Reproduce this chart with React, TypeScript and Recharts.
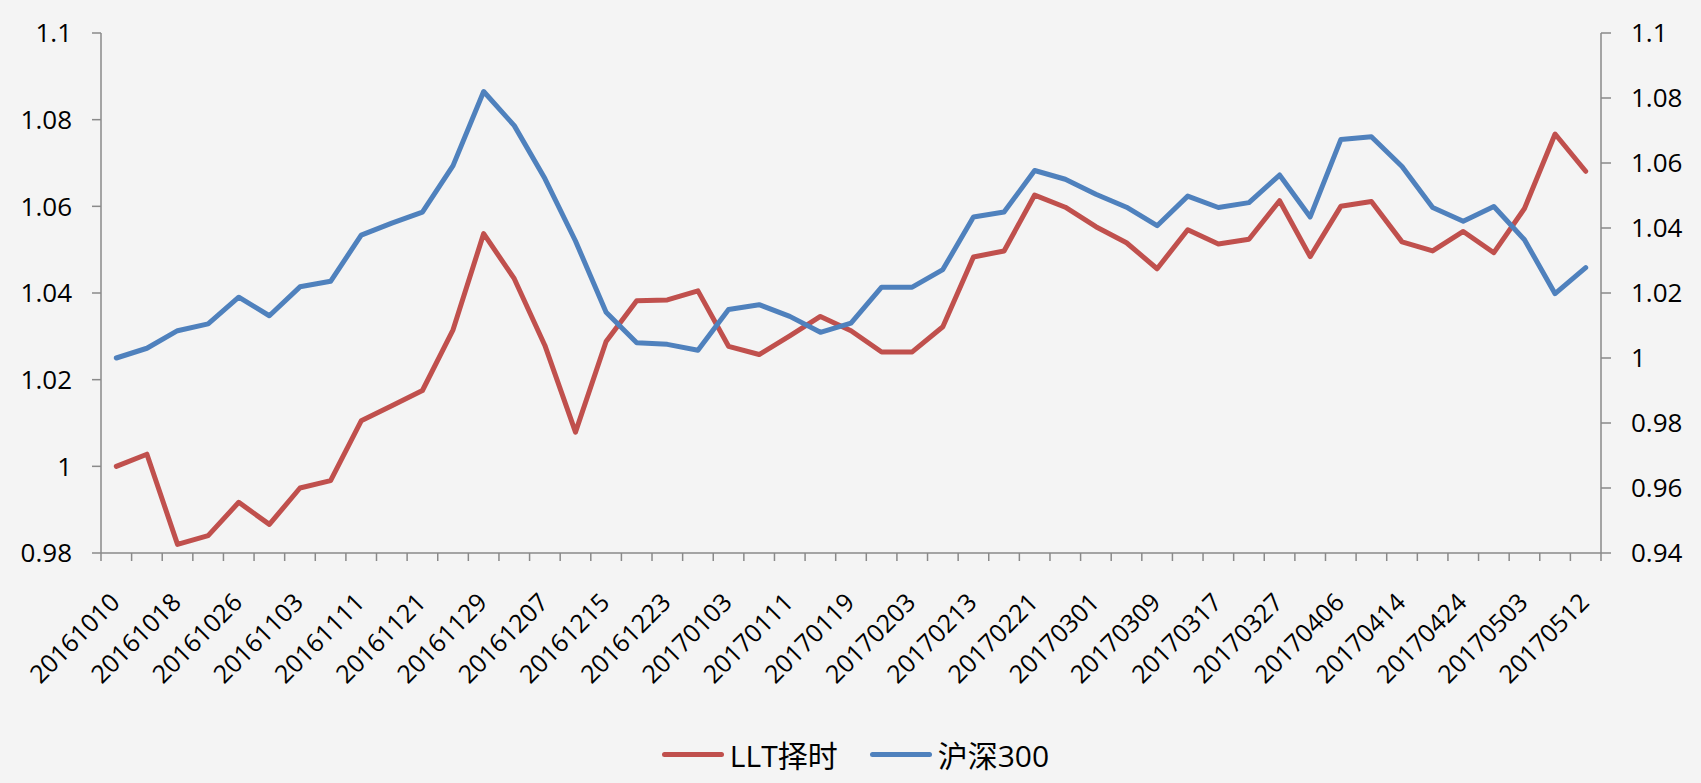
import { LineChart, Line, XAxis, YAxis, Legend } from 'recharts';

const DATES = [
  '20161010', '20161013', '20161018', '20161021', '20161026', '20161031', '20161103', '20161108',
  '20161111', '20161116', '20161121', '20161124', '20161129', '20161202', '20161207', '20161212',
  '20161215', '20161220', '20161223', '20161228', '20170103', '20170106', '20170111', '20170116',
  '20170119', '20170124', '20170203', '20170208', '20170213', '20170216', '20170221', '20170224',
  '20170301', '20170306', '20170309', '20170314', '20170317', '20170322', '20170327', '20170330',
  '20170406', '20170411', '20170414', '20170419', '20170424', '20170427', '20170503', '20170508',
  '20170512',
];

const LLT = [
  1.0, 1.0028, 0.982, 0.984, 0.9917, 0.9866, 0.995, 0.9967, 1.0105, 1.014,
  1.0175, 1.0315, 1.0537, 1.0433, 1.0279, 1.0079, 1.0288, 1.0382, 1.0384, 1.0405,
  1.0277, 1.0258, 1.0301, 1.0346, 1.0313, 1.0264, 1.0264, 1.0322, 1.0483, 1.0497,
  1.0626, 1.0598, 1.0553, 1.0516, 1.0456, 1.0546, 1.0513, 1.0524, 1.0613, 1.0484,
  1.06, 1.0611, 1.0518, 1.0497, 1.0542, 1.0493, 1.0595, 1.0767, 1.0681,
];

const HS300 = [
  1.0, 1.003, 1.0084, 1.0105, 1.0187, 1.013, 1.0219, 1.0236, 1.0378, 1.0415,
  1.0449, 1.0592, 1.082, 1.0715, 1.0552, 1.036, 1.0141, 1.0047, 1.0042, 1.0024,
  1.0149, 1.0164, 1.0128, 1.0079, 1.0107, 1.0218, 1.0218, 1.0272, 1.0434, 1.0449,
  1.0577, 1.055, 1.0504, 1.0464, 1.0407, 1.0498, 1.0463, 1.0478, 1.0563, 1.0434,
  1.0672, 1.0681, 1.0589, 1.0463, 1.0421, 1.0466, 1.0364, 1.0198, 1.0278,
];

const LEFT_TICKS = [0.98, 1.0, 1.02, 1.04, 1.06, 1.08, 1.1];
const RIGHT_TICKS = [0.94, 0.96, 0.98, 1.0, 1.02, 1.04, 1.06, 1.08, 1.1];

const data = DATES.map((date, i) => ({ date, llt: LLT[i], hs300: HS300[i] }));

const W = 1701;
const H = 783;
const LEFT_W = 101;
const RIGHT_W = 100;
const N = DATES.length;
const HALF = (W - LEFT_W - RIGHT_W) / N / 2;

const AXIS = '#8a8a8a';
const RED = '#c0504d';
const BLUE = '#4f81bd';
const FONT = '"Open Sans", "Noto Sans CJK SC", sans-serif';

const fmt = (v: number) => String(+v.toFixed(2));

function DateTick(props: any) {
  const { x, y, index, payload } = props;
  const tx = x + 5;
  const ty = y + 51;
  return (
    <g>
      <line x1={x - HALF} x2={x - HALF} y1={y} y2={y + 8} stroke={AXIS} strokeWidth={1.5} />
      {index === N - 1 && (
        <line x1={x + HALF} x2={x + HALF} y1={y} y2={y + 8} stroke={AXIS} strokeWidth={1.5} />
      )}
      {index % 2 === 0 && (
        <text
          x={tx}
          y={ty}
          textAnchor="end"
          transform={`rotate(-45 ${tx} ${ty})`}
          fontSize={25}
          fill="#000"
          fontFamily={FONT}
        >
          {payload.value}
        </text>
      )}
    </g>
  );
}

function LegendContent(props: any) {
  const { payload } = props;
  return (
    <div
      style={{
        height: 40,
        display: 'flex',
        justifyContent: 'center',
        alignItems: 'center',
        paddingLeft: 10,
        fontFamily: FONT,
        fontSize: 30,
        color: '#000',
      }}
    >
      {(payload || []).map((p: any, i: number) => (
        <div key={p.value} style={{ display: 'flex', alignItems: 'center', marginLeft: i ? 32 : 0 }}>
          <span
            style={{
              display: 'inline-block',
              width: 62,
              height: 5,
              borderRadius: 3,
              background: p.color,
              marginRight: 6,
            }}
          />
          <span>{p.value}</span>
        </div>
      ))}
    </div>
  );
}

export default function App() {
  return (
    <div style={{ position: 'absolute', left: 0, top: 0, width: W, height: H, background: '#f4f4f4' }}>
      <LineChart width={W} height={H} data={data} margin={{ top: 33, right: 0, bottom: 9, left: 0 }}>
        <XAxis
          dataKey="date"
          interval={0}
          tickLine={false}
          tickSize={0}
          tickMargin={0}
          height={181}
          padding={{ left: HALF, right: HALF }}
          axisLine={{ stroke: AXIS, strokeWidth: 1.5 }}
          tick={<DateTick />}
        />
        <YAxis
          yAxisId="left"
          orientation="left"
          width={LEFT_W}
          domain={[0.98, 1.1]}
          ticks={LEFT_TICKS}
          tickFormatter={fmt}
          tickSize={9}
          tickMargin={20}
          axisLine={{ stroke: AXIS, strokeWidth: 1.5 }}
          tickLine={{ stroke: AXIS, strokeWidth: 1.5 }}
          tick={{ fontSize: 26, fill: '#000', fontFamily: FONT }}
        />
        <YAxis
          yAxisId="right"
          orientation="right"
          width={RIGHT_W}
          domain={[0.94, 1.1]}
          ticks={RIGHT_TICKS}
          tickFormatter={fmt}
          tickSize={10}
          tickMargin={20}
          axisLine={{ stroke: AXIS, strokeWidth: 1.5 }}
          tickLine={{ stroke: AXIS, strokeWidth: 1.5 }}
          tick={{ fontSize: 26, fill: '#000', fontFamily: FONT }}
        />
        <Legend verticalAlign="bottom" content={<LegendContent />} />
        <Line
          yAxisId="left"
          dataKey="llt"
          name="LLT择时"
          stroke={RED}
          strokeWidth={5}
          strokeLinejoin="round"
          strokeLinecap="round"
          dot={false}
          activeDot={false}
          isAnimationActive={false}
        />
        <Line
          yAxisId="right"
          dataKey="hs300"
          name="沪深300"
          stroke={BLUE}
          strokeWidth={5}
          strokeLinejoin="round"
          strokeLinecap="round"
          dot={false}
          activeDot={false}
          isAnimationActive={false}
        />
      </LineChart>
    </div>
  );
}
